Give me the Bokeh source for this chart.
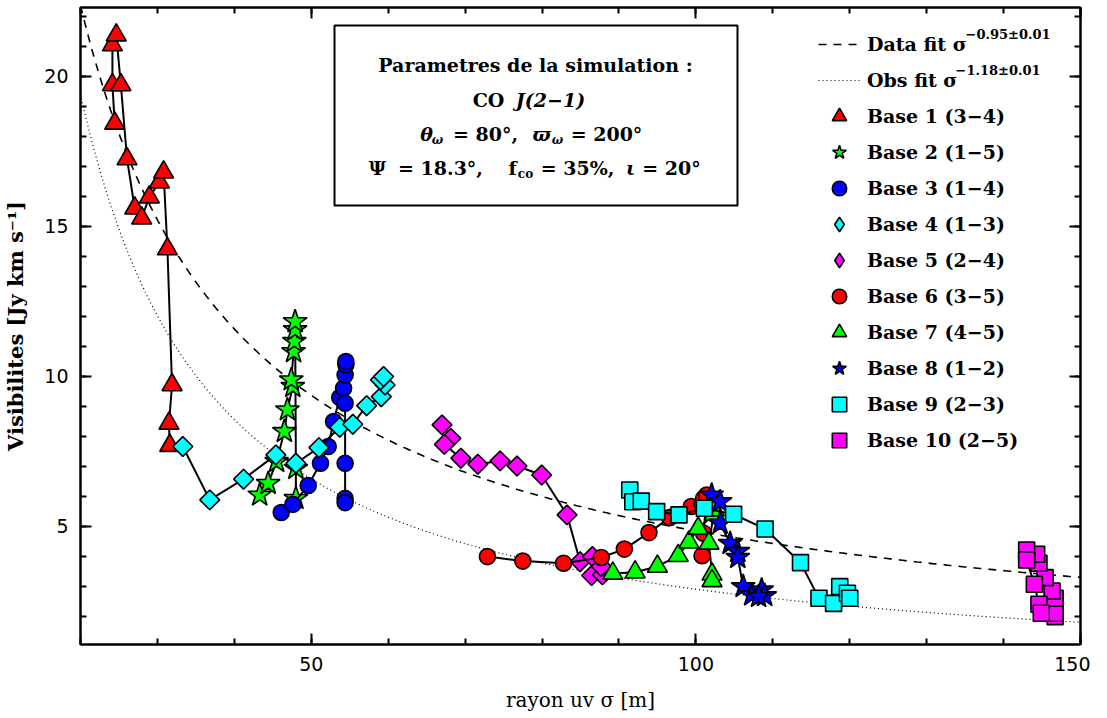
import numpy as np
from bokeh.plotting import figure
from bokeh.models import (Range1d, LinearAxis, SingleIntervalTicker, Legend, LegendItem,
                          Label, BoxAnnotation)
from bokeh.embed import file_html
from bokeh.resources import INLINE

# ---------------- data ----------------
base1_x = [24.45, 24.15, 24.15, 24.65, 25.25, 26.05, 27.05, 27.95, 28.95, 30.25, 30.8, 31.3, 31.9, 31.5, 31.6]
base1_y = [18.43, 19.71, 21.04, 21.37, 19.71, 17.24, 15.6, 15.27, 15.97, 16.47, 16.8, 14.24, 9.71, 8.43, 7.69]

base2_x = [43.3, 44.4, 45.5, 46.5, 46.9, 47.6, 47.4, 47.7, 47.8, 47.9, 47.9, 48.0, 48.0]
base2_y = [6.04, 6.43, 7.16, 8.16, 8.88, 9.66, 9.88, 10.82, 11.16, 11.55, 11.82, 6.93, 5.93]

base3_x = [46.1, 47.6, 49.6, 51.2, 52.2, 52.9, 53.7, 54.2, 54.4, 54.5, 54.5, 54.4, 54.4, 54.4, 54.4]
base3_y = [5.46, 5.73, 6.36, 7.1, 7.66, 8.49, 9.29, 9.6, 10.04, 10.38, 10.49, 9.1, 7.1, 5.93, 5.79]

base4_x = [33.3, 36.8, 41.2, 45.4, 48.0, 51.0, 53.7, 55.4, 57.2, 59.1, 59.6, 59.0, 59.4]
base4_y = [7.66, 5.88, 6.57, 7.38, 7.1, 7.62, 8.3, 8.4, 9.02, 9.32, 9.71, 9.88, 9.99]

base5_x = [67.0, 68.15, 67.3, 69.45, 71.65, 74.55, 76.75, 79.95, 83.25, 84.95, 86.55, 86.45, 87.85, 87.7]
base5_y = [8.38, 7.93, 7.73, 7.27, 7.07, 7.18, 7.01, 6.71, 5.38, 3.82, 3.99, 3.36, 3.38, 3.66]

base6_x = [72.9, 77.5, 82.8, 87.7, 90.7, 93.9, 96.6, 99.4, 100.8, 101.0, 101.4, 101.0, 100.8]
base6_y = [3.99, 3.84, 3.77, 3.96, 4.24, 4.79, 5.29, 5.66, 5.75, 5.93, 6.04, 4.77, 4.02]

base7_x = [89.2, 92.1, 95.0, 97.7, 99.1, 100.3, 102.4, 102.4, 101.7, 102.1, 102.1]
base7_y = [3.43, 3.47, 3.66, 4.02, 4.47, 4.93, 5.4, 5.54, 4.43, 3.4, 3.18]

base8_x = [102.05, 103.15, 103.15, 104.45, 105.45, 105.45, 106.15, 107.25, 108.55, 108.95, 108.15]
base8_y = [6.04, 5.82, 5.1, 4.43, 4.16, 3.96, 2.99, 2.71, 2.88, 2.69, 2.66]

base9_x = [91.4, 91.8, 92.9, 94.9, 97.8, 101.1, 104.9, 109.0, 113.6, 116.0, 117.9, 118.7, 119.7, 120.0]
base9_y = [6.21, 5.82, 5.84, 5.49, 5.38, 5.6, 5.4, 4.91, 3.79, 2.6, 2.43, 2.99, 2.77, 2.6]

base10_x = [146.7, 146.7, 146.7, 146.3, 145.4, 144.6, 144.3, 143.0, 143.0, 144.0, 144.6, 144.9]
base10_y = [1.99, 2.1, 2.6, 2.84, 3.29, 3.77, 4.07, 4.21, 3.88, 3.07, 2.4, 2.1]

base_labels = ["Base 1 (3\u22124)", "Base 2 (1\u22125)", "Base 3 (1\u22124)", "Base 4 (1\u22123)",
               "Base 5 (2\u22124)", "Base 6 (3\u22125)", "Base 7 (4\u22125)", "Base 8 (1\u22122)",
               "Base 9 (2\u22123)", "Base 10 (2\u22125)"]

# power-law fits  V = A * sigma^p
data_fit_amp, data_fit_exp = 385.0, -0.95
obs_fit_amp, obs_fit_exp = 665.0, -1.18
data_fit_label = "Data fit \u03c3"
data_fit_sup = "\u22120.95\u00b10.01"
obs_fit_label = "Obs fit \u03c3"
obs_fit_sup = "\u22121.18\u00b10.01"

x_ticks_major = 50
y_ticks_major = 5

# ---------------- figure ----------------
X0, X1 = 20.0, 150.0
Y0, Y1 = 1.06, 22.29
FW, FH = 1000, 637
FL, FT = 81, 9  # frame left/top in page px (reference)


def px2x(px):
    return X0 + (px - FL) * (X1 - X0) / FW


def py2y(py):
    return Y1 - (py - FT) * (Y1 - Y0) / FH


SERIF = "DejaVu Serif"
SANS = "DejaVu Sans"

p = figure(frame_width=FW, frame_height=FH, x_range=Range1d(X0, X1), y_range=Range1d(Y0, Y1),
           output_backend="svg", toolbar_location=None, tools="",
           x_axis_location=None, y_axis_location=None,
           min_border_left=73, min_border_top=7, min_border_bottom=62, min_border_right=10)
p.xgrid.visible = False
p.ygrid.visible = False
p.outline_line_color = "black"
p.outline_line_width = 2
p.background_fill_color = "white"
p.border_fill_color = "white"


def make_axis(kind, show_labels):
    ax = LinearAxis()
    if kind == "x":
        ax.ticker = SingleIntervalTicker(interval=x_ticks_major, num_minor_ticks=5)
    else:
        ax.ticker = SingleIntervalTicker(interval=y_ticks_major, num_minor_ticks=5)
    ax.major_tick_in = 11
    ax.major_tick_out = 0
    ax.minor_tick_in = 6
    ax.minor_tick_out = 0
    ax.major_tick_line_width = 2
    ax.minor_tick_line_width = 2
    ax.axis_line_width = 2
    ax.major_tick_line_color = "black"
    ax.minor_tick_line_color = "black"
    ax.axis_line_color = "black"
    if show_labels:
        ax.major_label_text_font = SANS
        ax.major_label_text_font_size = "19px"
        ax.major_label_text_color = "black"
        ax.axis_label_text_font = SERIF
        ax.axis_label_text_color = "black"
    else:
        ax.major_label_text_font_size = "0px"
        ax.major_label_standoff = 0
        ax.major_label_text_alpha = 0
    return ax


xb = make_axis("x", True)
xb.major_label_standoff = 12
xb.axis_label = "rayon uv \u03c3 [m]"
xb.axis_label_standoff = 14
xb.axis_label_text_font_size = "20px"
xb.axis_label_text_font_style = "normal"
p.add_layout(xb, "below")

yl = make_axis("y", True)
yl.major_label_standoff = 12
yl.axis_label = "Visibilites [Jy km s\u207b\u00b9]"
yl.axis_label_standoff = 13
yl.axis_label_text_font_size = "21px"
yl.axis_label_text_font_style = "bold"
p.add_layout(yl, "left")

p.add_layout(make_axis("x", False), "above")
p.add_layout(make_axis("y", False), "right")

# fits
sig = np.linspace(X0, X1, 400)
r_data = p.line(sig, data_fit_amp * sig ** data_fit_exp, line_color="black", line_width=1.6,
                line_dash="8 7")
r_obs = p.line(sig, obs_fit_amp * sig ** obs_fit_exp, line_color="black", line_width=1.2,
               line_dash="1 3")

series = [
    (base1_x, base1_y, "triangle", "#ff0000", 20, 0.0),
    (base2_x, base2_y, "star", "#00ff00", 25, 0.0),
    (base3_x, base3_y, "circle", "#0000ff", 16, 0.0),
    (base4_x, base4_y, "square", "#00ffff", 14, np.pi / 4),
    (base5_x, base5_y, "square", "#ff00ff", 14, np.pi / 4),
    (base6_x, base6_y, "circle", "#ff0000", 16, 0.0),
    (base7_x, base7_y, "triangle", "#00ff00", 20, 0.0),
    (base8_x, base8_y, "star", "#0000ff", 25, 0.0),
    (base9_x, base9_y, "square", "#00ffff", 16, 0.0),
    (base10_x, base10_y, "square", "#ff00ff", 16, 0.0),
]

items = [LegendItem(label=data_fit_label, renderers=[r_data]),
         LegendItem(label=obs_fit_label, renderers=[r_obs])]
for (xs, ys, mk, col, sz, ang), lab in zip(series, base_labels):
    p.line(xs, ys, line_color="black", line_width=2)
    leg_r = None
    if ang != 0.0:
        # diamond renderer (fully hidden under the rotated squares) used as legend swatch,
        # because legend swatches are drawn unrotated
        leg_r = p.scatter(xs, ys, marker="diamond", size=sz, fill_color=col, line_color="black",
                          line_width=1.6)
    r = p.scatter(xs, ys, marker=mk, size=sz, angle=ang, fill_color=col, line_color="black",
                  line_width=1.6)
    items.append(LegendItem(label=lab, renderers=[leg_r if leg_r is not None else r]))

legend = Legend(items=items, location=(738, 186), border_line_color=None,
                background_fill_alpha=0.0, glyph_width=42, glyph_height=36, spacing=0,
                label_standoff=7, padding=5, margin=0, label_height=36,
                label_text_font=SERIF, label_text_font_size="19px", label_text_font_style="bold",
                label_text_color="black")
p.add_layout(legend)

# legend superscripts
for txt, pxx, pyy in [(data_fit_sup, 966, 36), (obs_fit_sup, 956, 72)]:
    p.add_layout(Label(x=px2x(pxx), y=py2y(pyy), text=txt, text_font=SERIF, text_font_style="bold",
                       text_font_size="13px", text_baseline="middle", text_align="left",
                       text_color="black"))

# parameter box
p.add_layout(BoxAnnotation(left=px2x(335), right=px2x(738), top=py2y(27), bottom=py2y(207),
                           fill_color="white", fill_alpha=1.0, line_color="black", line_alpha=1.0,
                           line_width=2, level="overlay"))

segments = [
    # text, center x px, center y px, size, style
    ("Parametres de la simulation :", 536, 66, "19px", "bold"),
    ("CO", 489, 101, "19px", "bold"),
    ("J(2\u22121)", 551, 101, "19px", "bold italic"),
    ("\u03b8", 427, 135, "19px", "bold italic"),
    ("\u03c9", 438, 141, "12px", "bold italic"),
    ("= 80\u00b0,", 486, 135, "19px", "bold"),
    ("\u03d6", 542, 135, "19px", "bold italic"),
    ("\u03c9", 558, 141, "12px", "bold italic"),
    ("= 200\u00b0", 607, 135, "19px", "bold"),
    ("\u03a8", 378, 169, "19px", "bold"),
    ("= 18.3\u00b0,", 441, 169, "19px", "bold"),
    ("f", 513, 169, "19px", "bold"),
    ("co", 526, 175, "12px", "bold"),
    ("= 35%,", 578, 169, "19px", "bold"),
    ("\u03b9", 631, 169, "19px", "bold italic"),
    ("= 20\u00b0", 672, 169, "19px", "bold"),
]
for txt, cx, cy, fs, st in segments:
    p.add_layout(Label(x=px2x(cx), y=py2y(cy), text=txt, text_font=SERIF, text_font_style=st,
                       text_font_size=fs, text_baseline="middle", text_align="center",
                       text_color="black", level="overlay"))

open("out.html", "w").write(file_html(p, INLINE))
